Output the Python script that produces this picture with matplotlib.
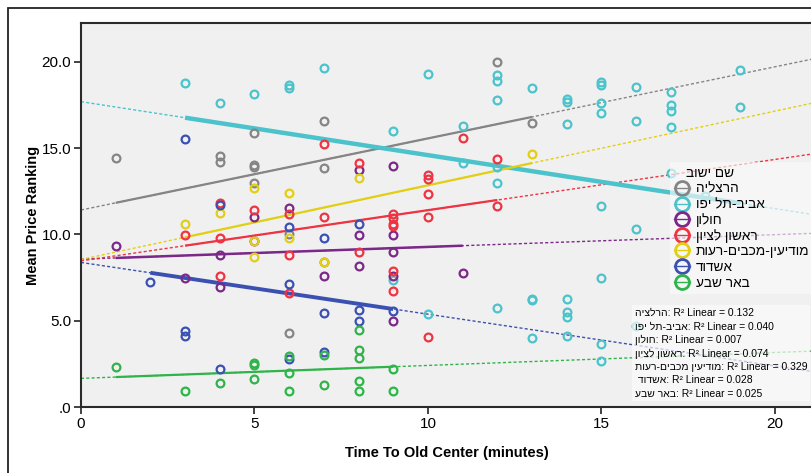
import matplotlib
matplotlib.use('Agg')
import matplotlib.pyplot as plt
from matplotlib.lines import Line2D
from matplotlib.patches import Rectangle


def heb(s):
    # matplotlib lays glyphs out left to right, so Hebrew is given in visual order
    return s[::-1]


# --- data ---
city_names = ['הרצליה', 'אביב-תל יפו', 'חולון', 'ראשון לציון',
              'מודיעין-מכבים-רעות', 'אשדוד', 'באר שבע']
colors = ['#858585', '#4cc3cb', '#7b2888', '#ee3442', '#e2cf14', '#3b51b2', '#2fb44a']

herzliya_x = [1, 4, 4, 5, 5, 5, 5, 6, 6, 7, 7, 7, 12, 13]
herzliya_y = [14.42, 14.57, 14.19, 15.87, 14.01, 13.91, 13.0, 10.03, 4.31,
              16.58, 13.86, 8.39, 20.02, 16.45]

telaviv_x = [3, 4, 5, 6, 6, 7, 9, 9, 10, 10, 11, 11,
             12, 12, 12, 12, 12, 12, 13, 13, 13, 13,
             14, 14, 14, 14, 14, 14, 14,
             15, 15, 15, 15, 15, 15, 15, 15,
             16, 16, 16, 16, 17, 17, 17, 17, 17, 18, 19, 19]
telaviv_y = [18.77, 17.64, 18.16, 18.67, 18.5, 19.63, 16.02, 7.34, 19.32, 5.41, 16.27, 14.13,
             19.25, 18.9, 17.8, 13.9, 13.0, 5.72, 18.51, 6.28, 6.2, 3.98,
             17.86, 17.7, 16.4, 6.24, 5.51, 5.24, 4.13,
             18.86, 18.67, 17.62, 17.02, 11.67, 7.46, 3.63, 2.67,
             18.53, 16.58, 10.32, 4.7, 18.28, 17.52, 17.16, 16.23, 13.58, 12.25, 19.54, 17.39]

holon_x = [1, 3, 4, 4, 5, 5, 6, 7, 8, 8, 8, 9, 9, 9, 9, 9, 11]
holon_y = [9.31, 7.48, 8.83, 6.98, 11.0, 9.64, 11.52, 7.59, 13.74, 9.99, 8.19,
           13.99, 9.99, 8.99, 7.6, 4.99, 7.79]

rishon_x = [3, 4, 4, 4, 5, 6, 6, 6, 7, 7, 8, 8, 9, 9, 9, 9, 9, 9,
            10, 10, 10, 10, 10, 11, 12, 12]
rishon_y = [9.99, 11.81, 9.78, 7.57, 11.4, 11.19, 8.83, 6.59, 15.25, 11.0, 14.13, 8.99,
            11.2, 10.94, 10.63, 10.5, 7.88, 6.74, 13.45, 13.22, 12.33, 11.0, 4.08,
            15.61, 14.36, 11.67]

modiin_x = [3, 4, 5, 5, 5, 6, 6, 7, 8, 13]
modiin_y = [10.63, 11.25, 12.71, 9.64, 8.7, 12.39, 9.82, 8.39, 13.26, 14.67]

ashdod_x = [2, 3, 3, 3, 4, 4, 6, 6, 6, 7, 7, 7, 8, 8, 8, 9]
ashdod_y = [7.23, 15.52, 4.42, 4.12, 11.71, 2.22, 10.45, 7.15, 2.76, 9.78, 5.47, 3.17,
            10.61, 5.6, 4.99, 5.55]

beersheva_x = [1, 3, 4, 5, 5, 5, 6, 6, 6, 7, 7, 8, 8, 8, 8, 8, 9, 9]
beersheva_y = [2.3, 0.95, 1.39, 2.53, 2.45, 1.62, 2.98, 1.95, 0.95, 3.01, 1.29,
               4.46, 3.3, 2.82, 1.51, 0.95, 2.2, 0.95]

# fit lines (intercept, slope) as drawn in the chart
fit_intercept = [11.42, 17.7, 8.57, 8.47, 8.55, 8.38, 1.66]
fit_slope = [0.415, -0.31, 0.071, 0.294, 0.43, -0.30, 0.075]
fit_width = [1.6, 3.2, 1.8, 1.6, 1.6, 2.8, 1.6]

r2_names = ['הרלציה', 'אביב-תל יפו', 'חולון', 'ראשון לציון',
            'מודיעין מכבים-רעות', 'אשדוד ', 'באר שבע']
r2_values = [0.132, 0.040, 0.007, 0.074, 0.329, 0.028, 0.025]

xticks = [0, 5, 10, 15, 20]
yticks = [0, 5, 10, 15, 20]
ytick_labels = ['.0', '5.0', '10.0', '15.0', '20.0']

series_x = [herzliya_x, telaviv_x, holon_x, rishon_x, modiin_x, ashdod_x, beersheva_x]
series_y = [herzliya_y, telaviv_y, holon_y, rishon_y, modiin_y, ashdod_y, beersheva_y]

plt.rcParams['font.family'] = ['Liberation Sans', 'DejaVu Sans']

fig = plt.figure(figsize=(8.12, 4.73), dpi=100)
fig.patches.append(Rectangle((8 / 812, -0.05), 1.1, 1 - 8 / 473 + 0.05,
                             transform=fig.transFigure, fill=False,
                             edgecolor='#222222', lw=1.3))

ax = fig.add_axes([81 / 812, 1 - 407 / 473, 731 / 812, 384 / 473])
ax.set_facecolor('#f0f0f0')
xmax, ymax = 21.07, 22.26
ax.set_xlim(0, xmax)
ax.set_ylim(0, ymax)

for i in range(len(city_names)):
    xs, ys, c = series_x[i], series_y[i], colors[i]
    a, b = fit_intercept[i], fit_slope[i]
    ax.plot([0, xmax], [a, a + b * xmax], color=c, lw=1.0,
            linestyle=(0, (2.2, 1.6)), zorder=2)
    x0, x1 = min(xs), max(xs)
    ax.plot([x0, x1], [a + b * x0, a + b * x1], color=c, lw=fit_width[i],
            solid_capstyle='butt', zorder=3)
    ax.plot(xs, ys, linestyle='none', marker='o', mfc='none', mec=c,
            ms=5.6, mew=1.6, zorder=4)

ax.set_xticks(xticks)
ax.set_yticks(yticks)
ax.set_yticklabels(ytick_labels)
ax.tick_params(direction='out', length=5, width=1.2, color='#222222',
               labelsize=11, pad=2)
for lab in ax.get_xticklabels() + ax.get_yticklabels():
    lab.set_family(['Liberation Sans Narrow', 'Liberation Sans'])

for side in ['left', 'bottom', 'top']:
    ax.spines[side].set_color('#2a2a2a')
    ax.spines[side].set_linewidth(1.5)
ax.spines['right'].set_color('#bbbbbb')

ax.set_xlabel('Time To Old Center (minutes)', fontsize=10.5, fontweight='bold', labelpad=11)
ax.set_ylabel('Mean Price Ranking', fontsize=10.5, fontweight='bold', labelpad=1)

handles = [Line2D([0], [0], color=c, lw=1.0, marker='o', mfc='none', mec=c,
                  ms=10, mew=2) for c in colors]
leg = ax.legend(handles, [heb(n) for n in city_names], title=heb('שם ישוב'),
                loc='upper left', bbox_to_anchor=(670 / 812, 1 - 162 / 473),
                bbox_transform=fig.transFigure, borderaxespad=0,
                fontsize=9.8, title_fontsize=9.8, frameon=True,
                fancybox=False, framealpha=0.65, facecolor='#fafafa',
                edgecolor='none', labelspacing=0.12, handlelength=1.2,
                handletextpad=0.4, borderpad=0.3, alignment='left')
leg.set_zorder(6)
leg.get_title().set_position((12, 0))

r2_lines = [heb(n) + ': R² Linear = %.3f' % v for n, v in zip(r2_names, r2_values)]
fig.text(635 / 812, 1 - 308 / 473, '\n'.join(r2_lines), fontsize=7.5,
         va='top', ha='left', linespacing=1.42, zorder=7,
         bbox=dict(facecolor='#fafafa', alpha=0.7, edgecolor='none', pad=2))

fig.savefig('out.png', dpi=100)
